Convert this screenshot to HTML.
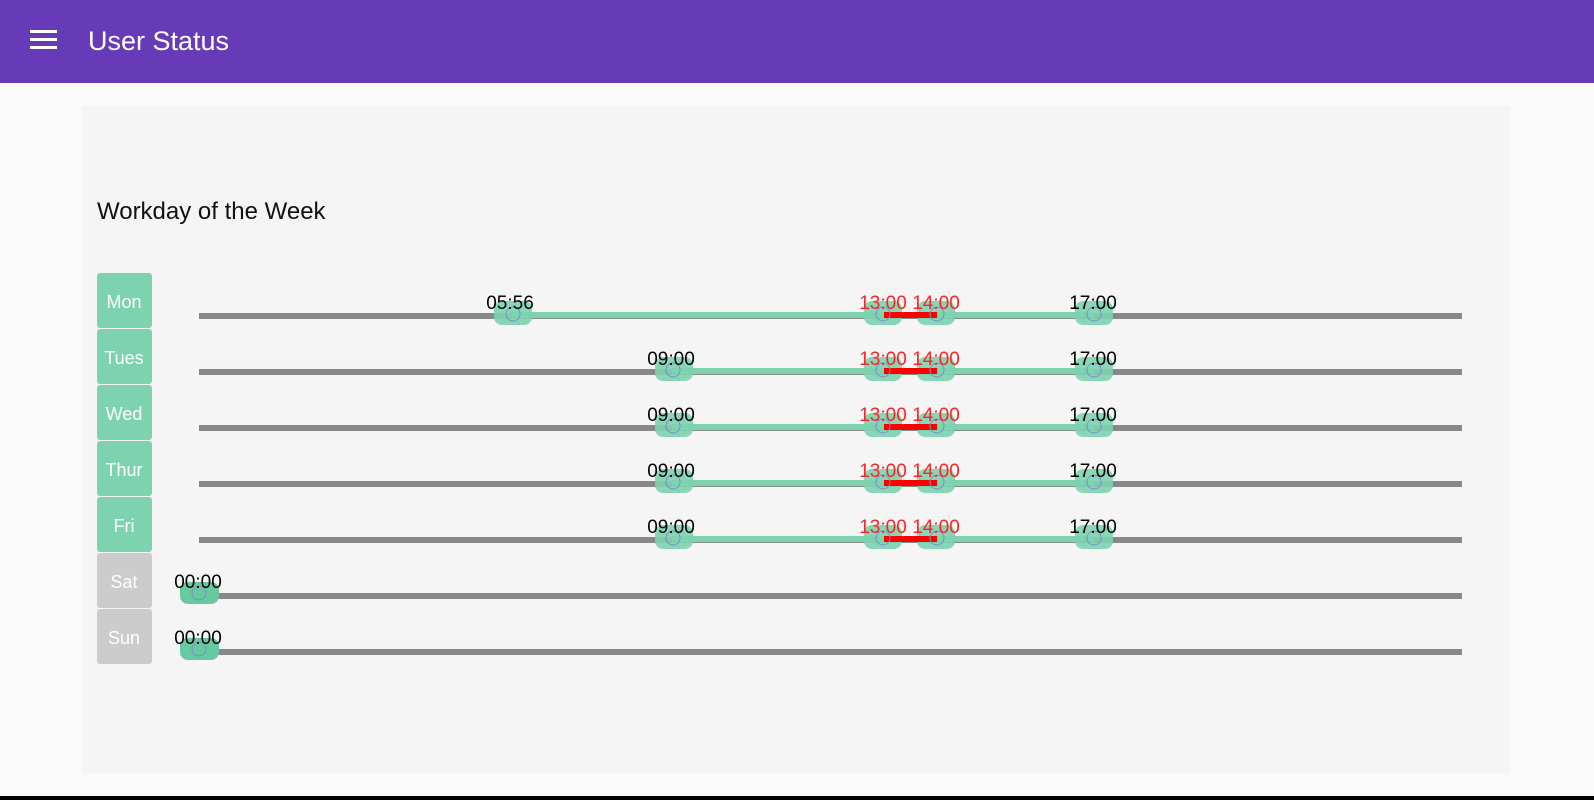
<!DOCTYPE html>
<html><head><meta charset="utf-8"><style>
body{margin:0;width:1594px;height:800px;background:#fafafa;overflow:hidden;font-family:"Liberation Sans",sans-serif;}
</style></head><body>
<svg width="1594" height="800" xmlns="http://www.w3.org/2000/svg" style="position:absolute;left:0;top:0;font-family:'Liberation Sans',sans-serif">
<defs>
<g id="row">
<rect x="672" y="368" width="422" height="6" fill="#7dd3b0"/>
<g fill="#7dd3b0" opacity="0.9"><rect x="655" y="357" width="38" height="24" rx="8"/><rect x="864" y="357" width="38" height="24" rx="8"/><rect x="917" y="357" width="38" height="24" rx="8"/><rect x="1075" y="357" width="38" height="24" rx="8"/></g>
<rect x="884" y="368" width="53" height="6" fill="#f00"/>
<g fill="none" stroke="#7a8ccf"><circle cx="673" cy="370" r="7"/><circle cx="883" cy="370" r="7"/><circle cx="937" cy="370" r="7"/><circle cx="1094" cy="370" r="7"/></g>
<text x="671" y="365">09:00</text><text x="883" y="365" fill="#f22">13:00</text><text x="936" y="365" fill="#f22">14:00</text><text x="1093" y="365">17:00</text>
</g>
</defs>
<rect x="0" y="0" width="1594" height="83" fill="#673AB7"/>
<rect x="30" y="30" width="27" height="3" fill="#fff"/>
<rect x="30" y="38" width="27" height="3" fill="#fff"/>
<rect x="30" y="46" width="27" height="3" fill="#fff"/>
<text x="88" y="50" font-size="27" fill="#fff">User Status</text>
<rect x="82" y="106" width="1428" height="667" fill="#f5f5f5"/>
<rect x="0" y="796" width="1594" height="4" fill="#000"/>
<text x="97" y="219" font-size="24" fill="#111">Workday of the Week</text>
<g font-size="18" fill="#fff" text-anchor="middle">
<rect x="97" y="273" width="55" height="55" rx="3" fill="#7dd3b0"/><text x="124" y="308">Mon</text>
<rect x="97" y="329" width="55" height="55" rx="3" fill="#7dd3b0"/><text x="124" y="364">Tues</text>
<rect x="97" y="385" width="55" height="55" rx="3" fill="#7dd3b0"/><text x="124" y="420">Wed</text>
<rect x="97" y="441" width="55" height="55" rx="3" fill="#7dd3b0"/><text x="124" y="476">Thur</text>
<rect x="97" y="497" width="55" height="55" rx="3" fill="#7dd3b0"/><text x="124" y="532">Fri</text>
<rect x="97" y="553" width="55" height="55" rx="3" fill="#cccccc"/><text x="124" y="588">Sat</text>
<rect x="97" y="609" width="55" height="55" rx="3" fill="#cccccc"/><text x="124" y="644">Sun</text>
</g>
<g font-size="19" text-anchor="middle">
<rect x="199" y="313" width="1263" height="6" fill="#888"/>
<rect x="199" y="369" width="1263" height="6" fill="#888"/>
<rect x="199" y="425" width="1263" height="6" fill="#888"/>
<rect x="199" y="481" width="1263" height="6" fill="#888"/>
<rect x="199" y="537" width="1263" height="6" fill="#888"/>
<rect x="199" y="593" width="1263" height="6" fill="#888"/>
<rect x="199" y="649" width="1263" height="6" fill="#888"/>
<rect x="511" y="312" width="583" height="6" fill="#7dd3b0"/>
<g fill="#7dd3b0" opacity="0.9">
<rect x="494" y="301" width="38" height="24" rx="8"/><rect x="864" y="301" width="38" height="24" rx="8"/><rect x="917" y="301" width="38" height="24" rx="8"/><rect x="1075" y="301" width="38" height="24" rx="8"/>
</g>
<rect x="884" y="312" width="53" height="6" fill="#f00"/>
<g fill="none" stroke="#7a8ccf" stroke-width="1"><circle cx="513" cy="314" r="7"/><circle cx="883" cy="314" r="7"/><circle cx="937" cy="314" r="7"/><circle cx="1094" cy="314" r="7"/></g>
<text x="510" y="309">05:56</text><text x="883" y="309" fill="#f22">13:00</text><text x="936" y="309" fill="#f22">14:00</text><text x="1093" y="309">17:00</text>
<use href="#row"/>
<use href="#row" y="56"/>
<use href="#row" y="112"/>
<use href="#row" y="168"/>
<rect x="180" y="582" width="39" height="22" rx="8" fill="#66c9a0"/>
<circle cx="199" cy="593" r="7" fill="none" stroke="#7a8ccf"/>
<text x="198" y="588">00:00</text>
<rect x="180" y="638" width="39" height="22" rx="8" fill="#66c9a0"/>
<circle cx="199" cy="649" r="7" fill="none" stroke="#7a8ccf"/>
<text x="198" y="644">00:00</text>
</g>
</svg>
</body></html>
